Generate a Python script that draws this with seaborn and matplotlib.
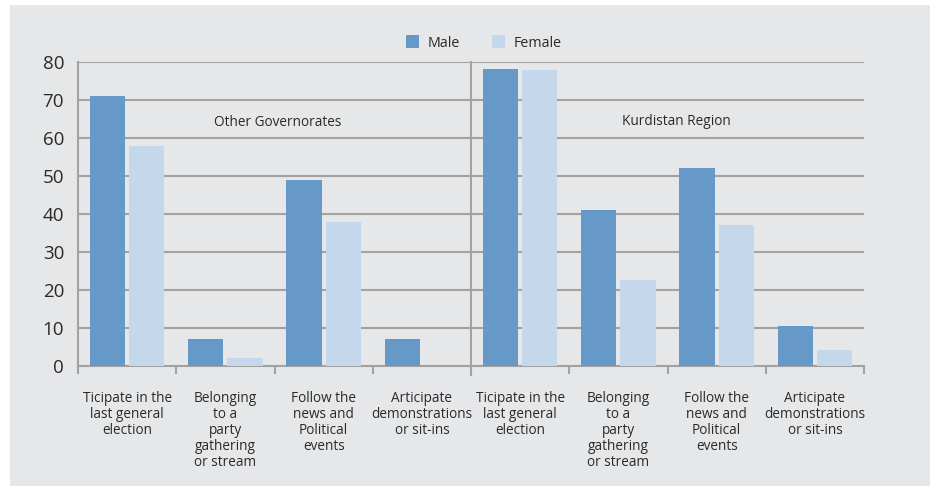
import matplotlib
matplotlib.use("Agg")
import numpy as np
import pandas as pd
import matplotlib.pyplot as plt
import seaborn as sns
from matplotlib.patches import Patch, Rectangle

# Participation indicators by region and sex (%)
regions = ["Other Governorates", "Kurdistan Region"]
activities = [
    "Ticipate in the\nlast general\nelection",
    "Belonging\nto a\nparty\ngathering\nor stream",
    "Follow the\nnews and\nPolitical\nevents",
    "Articipate\ndemonstrations\nor sit-ins",
]
sexes = ["Male", "Female"]
male_other = [71, 7, 49, 7]
female_other = [58, 2, 38, 0]
male_kurdistan = [78.2, 41, 52, 10.4]
female_kurdistan = [77.8, 22.6, 37, 4.2]
y_ticks = [0, 10, 20, 30, 40, 50, 60, 70, 80]

MALE_C = "#6699c8"
FEMALE_C = "#c4d7eb"
BG = "#e6e7e9"
GRID = "#a2a2a2"
TEXT = "#2a2a2a"
FONT = ["Open Sans", "DejaVu Sans"]

plt.rcParams["font.family"] = FONT

rows = []
slots = []
for region, males, females in [
    (regions[0], male_other, female_other),
    (regions[1], male_kurdistan, female_kurdistan),
]:
    for act, m, f in zip(activities, males, females):
        slot = f"{region}|{act}"
        slots.append(slot)
        rows.append({"slot": slot, "sex": "Male", "value": m})
        rows.append({"slot": slot, "sex": "Female", "value": f})
df = pd.DataFrame(rows)

W, H = 930, 486
fig = plt.figure(figsize=(W / 100, H / 100), dpi=100, facecolor="white")
fig.add_artist(Rectangle((10 / W, 0), (W - 10) / W, (H - 5) / H,
                         transform=fig.transFigure, facecolor=BG,
                         edgecolor="none", zorder=-10))

ax = fig.add_axes([78 / W, 120 / H, (864 - 78) / W, (366 - 62) / H])
ax.set_facecolor("none")

sns.barplot(data=df, x="slot", y="value", hue="sex", order=slots,
            hue_order=sexes, palette=[MALE_C, FEMALE_C], width=0.8,
            gap=0.1, legend=False, ax=ax, saturation=1, zorder=3)

ax.set_xlim(-0.5, len(slots) - 0.5)
ax.set_ylim(0, 80)
ax.set_yticks(y_ticks)
ax.set_yticklabels([str(t) for t in y_ticks], fontsize=13.5, color=TEXT)
ax.tick_params(axis="y", length=0, pad=10)

ax.set_xticks(range(len(slots)))
ax.set_xticklabels(activities * 2, fontsize=9.8, color=TEXT, linespacing=1.1)
ax.tick_params(axis="x", which="major", length=0, pad=18)
ax.set_xticks(np.arange(-0.5, len(slots), 1), minor=True)
ax.tick_params(axis="x", which="minor", length=5.5, width=1.5, color=GRID)
ax.set_xlabel("")
ax.set_ylabel("")

ax.yaxis.grid(True, color=GRID, lw=1.5)
ax.xaxis.grid(False)
ax.set_axisbelow(True)
for side in ["top", "right"]:
    ax.spines[side].set_visible(False)
for side in ["left", "bottom"]:
    ax.spines[side].set_color(GRID)
    ax.spines[side].set_linewidth(1.5)

# separator between the two regions
ax.axvline(3.5, ymin=-0.03, ymax=1, color=GRID, lw=1.5, clip_on=False, zorder=2)

ax.text(1.53, 64, regions[0], ha="center", va="center", fontsize=9.8, color=TEXT)
ax.text(5.59, 64.3, regions[1], ha="center", va="center", fontsize=9.8, color=TEXT)

handles = [Patch(facecolor=MALE_C, edgecolor="none"),
           Patch(facecolor=FEMALE_C, edgecolor="none")]
fig.legend(handles, sexes, loc="center", bbox_to_anchor=(484 / W, 1 - 43 / H),
           ncol=2, frameon=False, handlelength=0.95, handleheight=0.95,
           handletextpad=0.6, columnspacing=2.2, fontsize=10.3,
           labelcolor=TEXT)

fig.savefig("out.png", dpi=100, facecolor="white")
